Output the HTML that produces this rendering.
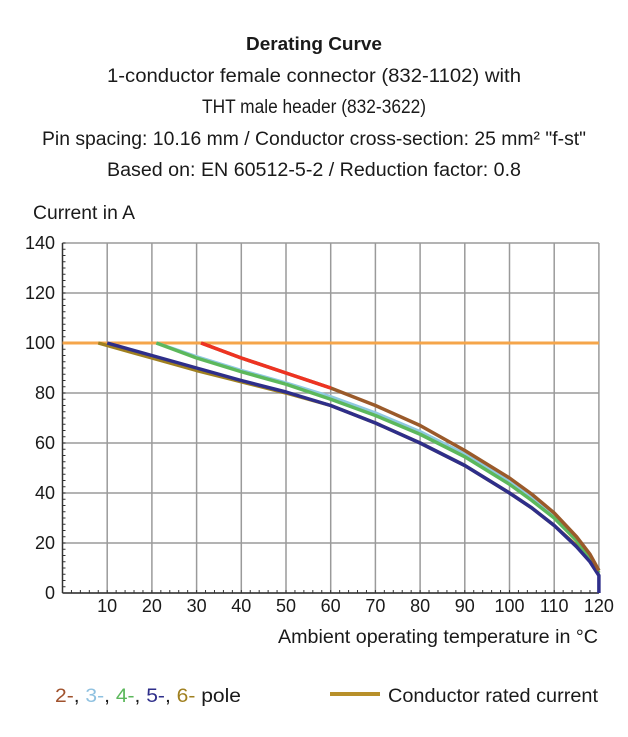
<!DOCTYPE html>
<html><head><meta charset="utf-8"><style>
html,body{margin:0;padding:0;background:#fff;width:628px;height:737px;overflow:hidden}
text{font-family:"Liberation Sans Narrow","Liberation Sans",sans-serif;fill:#1a1a1a}
</style></head><body>
<svg id="chart" width="628" height="737" viewBox="0 0 628 737" xmlns="http://www.w3.org/2000/svg">
<g>
<text x="314" y="50" text-anchor="middle" font-size="18" font-weight="bold" textLength="136" lengthAdjust="spacingAndGlyphs">Derating Curve</text>
<text x="314" y="82" text-anchor="middle" font-size="19" textLength="414" lengthAdjust="spacingAndGlyphs">1-conductor female connector (832-1102) with</text>
<text x="314" y="113" text-anchor="middle" font-size="19" textLength="224" lengthAdjust="spacingAndGlyphs">THT male header (832-3622)</text>
<text x="314" y="145" text-anchor="middle" font-size="19" textLength="544" lengthAdjust="spacingAndGlyphs">Pin spacing: 10.16 mm / Conductor cross-section: 25 mm² "f-st"</text>
<text x="314" y="176" text-anchor="middle" font-size="19" textLength="414" lengthAdjust="spacingAndGlyphs">Based on: EN 60512-5-2 / Reduction factor: 0.8</text>
</g>
<text x="33" y="219" font-size="19" textLength="102" lengthAdjust="spacingAndGlyphs">Current in A</text>
<text x="278" y="643" font-size="19" textLength="320" lengthAdjust="spacingAndGlyphs">Ambient operating temperature in °C</text>
<g id="grid"></g><g id="axes"></g><g id="series"></g>
<g>
<text x="55" y="702" font-size="19" textLength="186" lengthAdjust="spacingAndGlyphs"><tspan fill="#a0522d">2-</tspan><tspan>, </tspan><tspan fill="#8fc1e0">3-</tspan><tspan>, </tspan><tspan fill="#5cb85c">4-</tspan><tspan>, </tspan><tspan fill="#2e2e8a">5-</tspan><tspan>, </tspan><tspan fill="#a08020">6-</tspan><tspan>  pole</tspan></text>
<line x1="330" y1="694" x2="380" y2="694" stroke="#b8902a" stroke-width="4"/>
<text x="388" y="702" font-size="19" textLength="210" lengthAdjust="spacingAndGlyphs">Conductor rated current</text>
</g>
</svg>
<script>
const xTicks=[10,20,30,40,50,60,70,80,90,100,110,120];
const yTicks=[0,20,40,60,80,100,120,140];
const ratedCurrent=100;
const temps6=[8,20,30,40,50,60,70,80,90,100,105,110,115,118,120];
const vals6=[100,94,89,84.5,80,75,68,60,51,40,34,27,19,13,8];
const temps5=[10,20,30,40,50,60,70,80,90,100,105,110,115,118,120,120];
const vals5=[100,95,90,85,80.4,75,68,60,51,40,34,27,18.5,12.5,7,0];
const temps4=[21,30,40,50,60,70,80,90,100,105,110,115,118,120];
const vals4=[100,94,88.5,83.5,77.5,71,63.5,54.5,43.5,37,30,21,14,8];
const temps3=[21,30,40,50,60,70,80,90,100,105,110,115,118,120];
const vals3=[100,94.5,89,84,78.5,72,64.5,55.5,44.5,38,31,22,15,9];
const temps2=[31,40,50,60,70,80,90,100,105,110,115,118,120];
const vals2=[100,94,88,82,75,67,57,46,39.5,32,22.5,15.5,9];
const X=v=>62.5+v*4.47, Y=v=>593-v*2.5;
const NS="http://www.w3.org/2000/svg";
function mk(tag,parent,attrs){const e=document.createElementNS(NS,tag);for(const k in attrs)e.setAttribute(k,attrs[k]);parent.appendChild(e);return e;}
const grid=document.getElementById('grid'),axes=document.getElementById('axes'),ser=document.getElementById('series');
xTicks.forEach(t=>{const l=mk('line',grid,{x1:X(t),x2:X(t),y1:Y(140),y2:Y(0),stroke:'#9a9a9a','stroke-width':1.5});


const tx=mk('text',axes,{x:X(t),y:612,'font-size':18,'text-anchor':'middle'});tx.textContent=t;

});
yTicks.forEach(t=>{const l=mk('line',grid,{x1:X(0),x2:X(120),y1:Y(t),y2:Y(t),stroke:'#9a9a9a','stroke-width':1.5});


const tx=mk('text',axes,{x:55,y:Y(t)+6,'font-size':18,'text-anchor':'end'});tx.textContent=t;

});
for(let v=0;v<=140;v+=2.5){mk('line',axes,{x1:X(0),x2:X(0)+3,y1:Y(v),y2:Y(v),stroke:'#333','stroke-width':1});}
for(let v=0;v<=120;v+=2){mk('line',axes,{x1:X(v),x2:X(v),y1:Y(0),y2:Y(0)-3,stroke:'#333','stroke-width':1});}
const ya=mk('line',axes,{x1:X(0),x2:X(0),y1:Y(140),y2:Y(0),stroke:'#333','stroke-width':1.5});


const xa=mk('line',axes,{x1:X(0),x2:X(120),y1:Y(0),y2:Y(0),stroke:'#333','stroke-width':1.5});


const rl=mk('line',ser,{x1:X(0),x2:X(120),y1:Y(ratedCurrent),y2:Y(ratedCurrent),stroke:'#f5a54a','stroke-width':3});


function draw(ts,vs,color,name){const p=mk('polyline',ser,{points:ts.map((t,i)=>X(t)+','+Y(vs[i])).join(' '),fill:'none',stroke:color,'stroke-width':3.5,'stroke-linejoin':'round'});

}
draw(temps6,vals6,'#a08020','series-6-pole');
draw(temps3,vals3,'#8fc8e0','series-3-pole');
draw(temps4,vals4,'#5cb85c','series-4-pole');
draw(temps5,vals5,'#2e2e8a','series-5-pole');
draw(temps2,vals2,'#9a5a2a','series-2-pole');
draw(temps2.slice(0,4),vals2.slice(0,4),'#ee3322','series-2-pole-start');
</script>
</body></html>
